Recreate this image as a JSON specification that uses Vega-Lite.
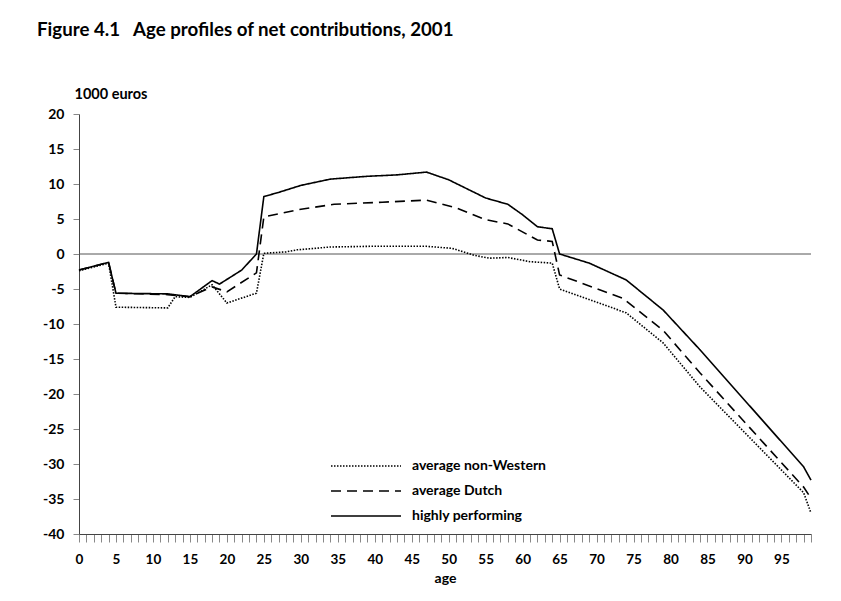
{
  "$schema": "https://vega.github.io/schema/vega-lite/v6.json",
  "width": 732,
  "height": 420,
  "autosize": {"type": "none"},
  "padding": {"left": 79, "top": 114, "right": 30, "bottom": 67},
  "background": "white",
  "title": {
    "text": "Figure 4.1\u00a0\u00a0\u00a0Age profiles of net contributions, 2001",
    "anchor": "start",
    "frame": "group",
    "dx": -42,
    "offset": 46,
    "font": "Lato",
    "fontSize": 18.7,
    "fontWeight": "bold",
    "color": "black"
  },
  "config": {
    "view": {"stroke": null},
    "font": "Lato",
    "axisY": {
      "title": "1000 euros",
      "titleAngle": 0,
      "titleAlign": "left",
      "titleBaseline": "middle",
      "titleX": -5,
      "titleY": -20,
      "titleFont": "Lato",
      "titleFontSize": 14.5,
      "titleFontWeight": "bold",
      "titleColor": "black",
      "values": [-40, -35, -30, -25, -20, -15, -10, -5, 0, 5, 10, 15, 20],
      "labelExpr": "datum.value + ''",
      "labelOverlap": false,
      "labelFont": "Lato",
      "labelFontSize": 14,
      "labelFontWeight": "bold",
      "labelColor": "black",
      "labelPadding": 9,
      "tickSize": 6,
      "tickColor": "#888888",
      "domainColor": "#444444",
      "grid": false
    }
  },
  "datasets": {
    "profiles": [
      {"age": 0, "value": -2.4, "group": "average non-Western"},
      {"age": 4, "value": -1.3, "group": "average non-Western"},
      {"age": 5, "value": -7.6, "group": "average non-Western"},
      {"age": 12, "value": -7.7, "group": "average non-Western"},
      {"age": 13, "value": -6.1, "group": "average non-Western"},
      {"age": 15, "value": -6.2, "group": "average non-Western"},
      {"age": 18, "value": -4.4, "group": "average non-Western"},
      {"age": 20, "value": -7.0, "group": "average non-Western"},
      {"age": 24, "value": -5.6, "group": "average non-Western"},
      {"age": 25, "value": 0.1, "group": "average non-Western"},
      {"age": 28, "value": 0.3, "group": "average non-Western"},
      {"age": 29.5, "value": 0.6, "group": "average non-Western"},
      {"age": 34, "value": 1.0, "group": "average non-Western"},
      {"age": 39.5, "value": 1.1, "group": "average non-Western"},
      {"age": 47, "value": 1.1, "group": "average non-Western"},
      {"age": 50.5, "value": 0.8, "group": "average non-Western"},
      {"age": 53.5, "value": -0.2, "group": "average non-Western"},
      {"age": 55.5, "value": -0.6, "group": "average non-Western"},
      {"age": 58, "value": -0.5, "group": "average non-Western"},
      {"age": 61, "value": -1.1, "group": "average non-Western"},
      {"age": 64, "value": -1.3, "group": "average non-Western"},
      {"age": 65, "value": -5.0, "group": "average non-Western"},
      {"age": 74, "value": -8.4, "group": "average non-Western"},
      {"age": 79, "value": -12.7, "group": "average non-Western"},
      {"age": 84, "value": -19.0, "group": "average non-Western"},
      {"age": 98, "value": -34.1, "group": "average non-Western"},
      {"age": 99, "value": -37.0, "group": "average non-Western"},

      {"age": 0, "value": -2.3, "group": "average Dutch"},
      {"age": 4, "value": -1.2, "group": "average Dutch"},
      {"age": 5, "value": -5.6, "group": "average Dutch"},
      {"age": 12, "value": -5.8, "group": "average Dutch"},
      {"age": 15, "value": -6.1, "group": "average Dutch"},
      {"age": 18, "value": -4.7, "group": "average Dutch"},
      {"age": 20, "value": -5.4, "group": "average Dutch"},
      {"age": 24, "value": -2.7, "group": "average Dutch"},
      {"age": 25, "value": 5.3, "group": "average Dutch"},
      {"age": 29.5, "value": 6.3, "group": "average Dutch"},
      {"age": 34.5, "value": 7.1, "group": "average Dutch"},
      {"age": 41, "value": 7.4, "group": "average Dutch"},
      {"age": 47, "value": 7.7, "group": "average Dutch"},
      {"age": 51, "value": 6.6, "group": "average Dutch"},
      {"age": 55, "value": 4.9, "group": "average Dutch"},
      {"age": 58, "value": 4.3, "group": "average Dutch"},
      {"age": 62, "value": 2.0, "group": "average Dutch"},
      {"age": 64, "value": 1.8, "group": "average Dutch"},
      {"age": 65, "value": -3.0, "group": "average Dutch"},
      {"age": 73.5, "value": -6.3, "group": "average Dutch"},
      {"age": 79, "value": -10.9, "group": "average Dutch"},
      {"age": 84, "value": -17.0, "group": "average Dutch"},
      {"age": 98, "value": -33.3, "group": "average Dutch"},
      {"age": 99, "value": -34.9, "group": "average Dutch"},

      {"age": 0, "value": -2.3, "group": "highly performing"},
      {"age": 4, "value": -1.2, "group": "highly performing"},
      {"age": 5, "value": -5.6, "group": "highly performing"},
      {"age": 12, "value": -5.7, "group": "highly performing"},
      {"age": 15, "value": -6.1, "group": "highly performing"},
      {"age": 18, "value": -3.8, "group": "highly performing"},
      {"age": 19, "value": -4.3, "group": "highly performing"},
      {"age": 22, "value": -2.3, "group": "highly performing"},
      {"age": 24, "value": 0, "group": "highly performing"},
      {"age": 25, "value": 8.2, "group": "highly performing"},
      {"age": 27, "value": 8.8, "group": "highly performing"},
      {"age": 30, "value": 9.8, "group": "highly performing"},
      {"age": 34, "value": 10.7, "group": "highly performing"},
      {"age": 39, "value": 11.1, "group": "highly performing"},
      {"age": 43, "value": 11.3, "group": "highly performing"},
      {"age": 47, "value": 11.7, "group": "highly performing"},
      {"age": 50, "value": 10.6, "group": "highly performing"},
      {"age": 55, "value": 8.0, "group": "highly performing"},
      {"age": 58, "value": 7.1, "group": "highly performing"},
      {"age": 60, "value": 5.6, "group": "highly performing"},
      {"age": 62, "value": 3.9, "group": "highly performing"},
      {"age": 64, "value": 3.6, "group": "highly performing"},
      {"age": 65, "value": 0, "group": "highly performing"},
      {"age": 69, "value": -1.3, "group": "highly performing"},
      {"age": 74, "value": -3.7, "group": "highly performing"},
      {"age": 79, "value": -8.0, "group": "highly performing"},
      {"age": 84, "value": -13.7, "group": "highly performing"},
      {"age": 98, "value": -30.4, "group": "highly performing"},
      {"age": 99, "value": -32.3, "group": "highly performing"}
    ],
    "zero": [{"y": 0}]
  },
  "layer": [
    {
      "data": {"name": "zero"},
      "mark": {"type": "rule", "color": "#555555", "strokeWidth": 1},
      "encoding": {
        "y": {"field": "y", "type": "quantitative", "scale": {"domain": [-40, 20], "nice": false}, "title": "1000 euros"}
      }
    },
    {
      "data": {"name": "profiles"},
      "mark": {"type": "line", "color": "black", "strokeWidth": 1.6},
      "encoding": {
        "x": {
          "field": "age",
          "type": "quantitative",
          "scale": {"domain": [0, 99], "nice": false, "zero": false},
          "axis": {
            "title": "age",
            "titleFont": "Lato",
            "titleFontSize": 14,
            "titleFontWeight": "bold",
            "titleColor": "black",
            "titlePadding": 6,
            "values": [0,1,2,3,4,5,6,7,8,9,10,11,12,13,14,15,16,17,18,19,20,21,22,23,24,25,26,27,28,29,30,31,32,33,34,35,36,37,38,39,40,41,42,43,44,45,46,47,48,49,50,51,52,53,54,55,56,57,58,59,60,61,62,63,64,65,66,67,68,69,70,71,72,73,74,75,76,77,78,79,80,81,82,83,84,85,86,87,88,89,90,91,92,93,94,95,96,97,98,99],
            "labelExpr": "datum.value % 5 === 0 ? datum.label : ''",
            "labelOverlap": false,
            "labelFlush": false,
            "labelFont": "Lato",
            "labelFontSize": 13.5,
            "labelFontWeight": "bold",
            "labelColor": "black",
            "labelPadding": 10,
            "tickSize": 8,
            "tickColor": "#888888",
            "tickWidth": 1,
            "domainColor": "#444444",
            "domainWidth": 1,
            "grid": false
          }
        },
        "y": {
          "field": "value",
          "type": "quantitative",
          "scale": {"domain": [-40, 20], "nice": false},
          "title": "1000 euros"
        },
        "strokeDash": {
          "field": "group",
          "type": "nominal",
          "scale": {
            "domain": ["average non-Western", "average Dutch", "highly performing"],
            "range": [[1.5, 1.5], [10, 6], [1, 0]]
          },
          "legend": {
            "title": null,
            "orient": "none",
            "legendX": 251,
            "legendY": 344,
            "symbolType": "stroke",
            "symbolSize": 4900,
            "symbolStrokeWidth": 1.5,
            "symbolStrokeColor": "black",
            "clipHeight": 16,
            "labelFont": "Lato",
            "labelFontSize": 14,
            "labelFontWeight": "bold",
            "labelColor": "black",
            "labelOffset": 10,
            "rowPadding": 9
          }
        }
      }
    }
  ]
}
